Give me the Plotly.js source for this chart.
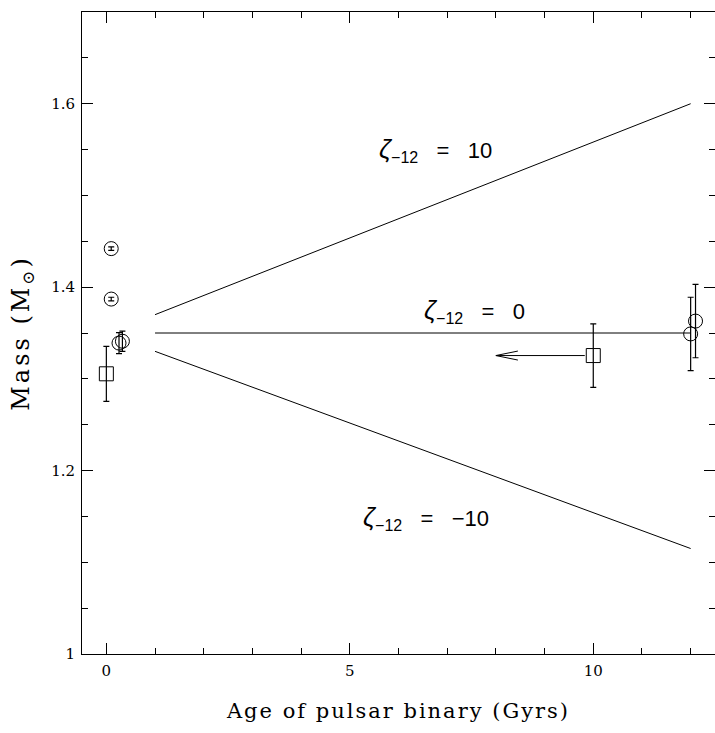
<!DOCTYPE html>
<html>
<head>
<meta charset="utf-8">
<script src="https://cdn.plot.ly/plotly-3.0.1.min.js"></script>
<style>
  html, body { margin: 0; padding: 0; background: #fff; }
  .g-xtitle text { letter-spacing: 2px; }
  .g-ytitle text { letter-spacing: 3px; }
</style>
</head>
<body>
<div id="chart" style="width:715px;height:733px;"></div>
<script>
// ---- Data ----
// Open circles: measured neutron-star masses
const circleAge  = [0.1, 0.1, 0.26, 0.33, 12.0, 12.1];
const circleMass = [1.442, 1.387, 1.339, 1.341, 1.349, 1.363];
const circleErr  = [0.002, 0.002, 0.0115, 0.011, 0.040, 0.040];

// Open squares
const squareAge  = [0, 10];
const squareMass = [1.3055, 1.3254];
const squareErr  = [0.030, 0.0346];

// Upper limit on age of the square at 10 Gyr (arrow points to this age)
const limitFromAge = [10];
const limitToAge   = [8];
const limitMass    = [1.3254];

// Model tracks
const lineAge   = [1, 12];
const zetaPos10 = [1.37, 1.60];
const zetaZero  = [1.35, 1.35];
const zetaNeg10 = [1.33, 1.115];

const zetaValues = ["10", "0", "−10"];
const xTickVals = [0, 5, 10];
const yTickVals = [1, 1.2, 1.4, 1.6];
const yTickText = ["1", "1.2", "1.4", "1.6"];

// ---- Traces ----
const lineStyle = {color: "#000", width: 1};
const traces = [
  {x: lineAge, y: zetaPos10, mode: "lines", line: lineStyle, hoverinfo: "skip"},
  {x: lineAge, y: zetaZero,  mode: "lines", line: lineStyle, hoverinfo: "skip"},
  {x: lineAge, y: zetaNeg10, mode: "lines", line: lineStyle, hoverinfo: "skip"},
  {
    x: circleAge, y: circleMass, mode: "markers",
    marker: {symbol: "circle-open", size: 14, color: "#000", line: {width: 1, color: "#000"}},
    error_y: {type: "data", array: circleErr, visible: true, color: "#000", thickness: 1.2, width: 3}
  },
  {
    x: squareAge, y: squareMass, mode: "markers",
    marker: {symbol: "square-open", size: 14, color: "#000", line: {width: 1, color: "#000"}},
    error_y: {type: "data", array: squareErr, visible: true, color: "#000", thickness: 1.2, width: 3}
  }
];

const serif = "DejaVu Serif, Liberation Serif, serif";
const axisCommon = {
  showline: true, linecolor: "#000", linewidth: 1, mirror: "allticks",
  ticks: "inside", ticklen: 11, tickwidth: 1, tickcolor: "#000",
  showgrid: false, zeroline: false,
  tickfont: {family: serif, size: 15, color: "#000"}
};

const sp = "\u00a0\u00a0\u00a0";
const labelText = v => '<span style="font-size:26px"><i>ζ</i></span><sub><span style="font-size:16px">−12</span></sub>' + sp + "=" + sp + v;
const labelPos = [[6.75, 1.5496], [7.57, 1.374], [6.56, 1.148]];
const annotations = zetaValues.map((v, i) => ({
  x: labelPos[i][0], y: labelPos[i][1], text: labelText(v),
  xref: "x", yref: "y", showarrow: false,
  font: {family: "Liberation Sans, Arial, sans-serif", size: 22, color: "#000"}
}));

// arrow shaft (upper limit on age)
annotations.push({
  x: limitToAge[0], y: limitMass[0], xref: "x", yref: "y",
  ax: limitFromAge[0], ay: limitMass[0], axref: "x", ayref: "y",
  text: "", showarrow: true, arrowhead: 0, arrowwidth: 1, arrowcolor: "#000",
  startstandoff: 7, standoff: 0
});

const shapes = [{
  type: "path", xref: "x", yref: "y",
  xsizemode: "pixel", ysizemode: "pixel",
  xanchor: limitToAge[0], yanchor: limitMass[0],
  path: "M 22 4.5 L 0 0 L 22 -4.5",
  line: {color: "#000", width: 1}
}];

const layout = {
  width: 715, height: 733,
  margin: {l: 82, r: 0, t: 12, b: 79, pad: 0},
  paper_bgcolor: "#fff", plot_bgcolor: "#fff",
  showlegend: false,
  xaxis: Object.assign({}, axisCommon, {
    range: [-0.5, 12.5],
    tickvals: xTickVals,
    ticklabelstandoff: 3,
    minor: {dtick: 1, ticks: "inside", ticklen: 6, tickcolor: "#000", tickwidth: 1, showgrid: false},
    title: {text: "Age of pulsar binary (Gyrs)", font: {family: serif, size: 21, color: "#000"}, standoff: 24}
  }),
  yaxis: Object.assign({}, axisCommon, {
    range: [1, 1.7],
    tickvals: yTickVals, ticktext: yTickText,
    ticklabelstandoff: 3,
    minor: {dtick: 0.05, tick0: 1, ticks: "inside", ticklen: 6, tickcolor: "#000", tickwidth: 1, showgrid: false},
    title: {text: "Mass (M<sub>⊙</sub>)", font: {family: serif, size: 24, color: "#000"}, standoff: 14}
  }),
  annotations: annotations,
  shapes: shapes
};

Plotly.newPlot("chart", traces, layout, {displayModeBar: false, staticPlot: true});
</script>
</body>
</html>
